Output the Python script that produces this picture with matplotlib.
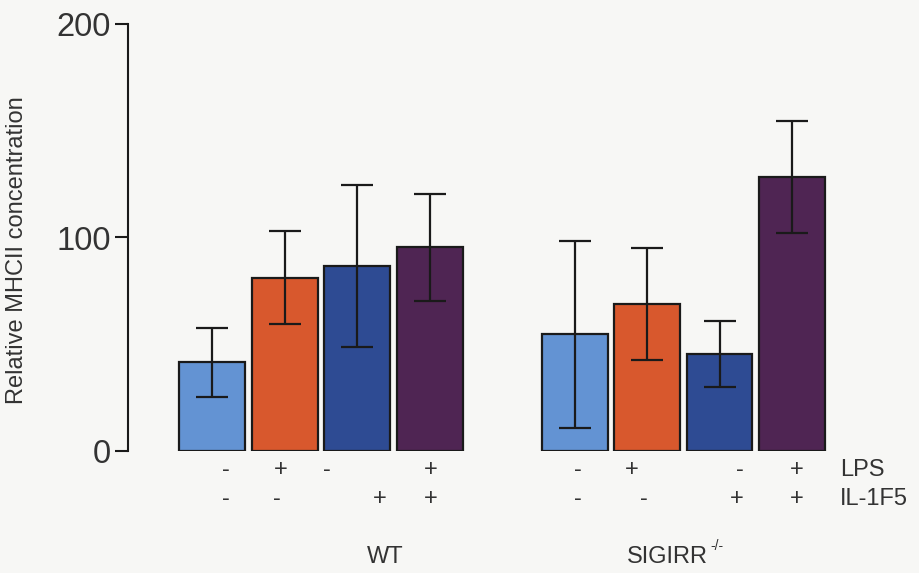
import matplotlib
matplotlib.use("Agg")
import matplotlib.pyplot as plt
import numpy as np

plt.rcParams['font.family'] = ['Liberation Sans', 'DejaVu Sans']

# ---- data ----
groups = ["WT", "SIGIRR"]
conditions = ["LPS-/IL-1F5-", "LPS+/IL-1F5-", "LPS-/IL-1F5+", "LPS+/IL-1F5+"]
wt_means = [41.5, 81.2, 86.7, 95.4]
wt_errs = [16.1, 21.8, 37.8, 25.1]
sig_means = [54.7, 68.9, 45.4, 128.5]
sig_errs = [43.8, 26.4, 15.4, 26.3]
lps_signs = ["-", "+", "-", "+"]
il_signs = ["-", "-", "+", "+"]
yticks = [0, 100, 200]
colors = ["#6393d3", "#d8582d", "#2e4b93", "#4f2553"]

# layout: offsets of the printed signs from bar centres (as in the original figure)
lps_offsets_wt = [0.19, -0.05, -0.42, 0.02]
il_offsets_wt = [0.19, -0.10, 0.32, 0.02]
lps_offsets_sig = [0.05, -0.21, 0.28, 0.06]
il_offsets_sig = [0.05, -0.04, 0.24, 0.06]

bg = "#f7f7f5"
txt = "#333333"
fig = plt.figure(figsize=(9.19, 5.73), dpi=100, facecolor=bg)
ax = fig.add_axes([128/919, (573-451)/573, (830-128)/919, (451-24)/573], facecolor=bg)

x_wt = np.arange(4)
x_sig = np.arange(4) + 5
width = 0.91
for xs, means, errs in [(x_wt, wt_means, wt_errs), (x_sig, sig_means, sig_errs)]:
    ax.bar(xs, means, width=width, color=colors, edgecolor="#1a1a1a", linewidth=1.6, zorder=2)
    ax.errorbar(xs, means, yerr=errs, fmt="none", ecolor="#1a1a1a", elinewidth=1.6,
                capsize=11.5, capthick=1.6, zorder=3)

ax.set_xlim(-1.159, 8.524)
ax.set_ylim(0, 200)
ax.set_yticks(yticks)
ax.set_yticklabels([str(v) for v in yticks], fontsize=23.5, color=txt)
ax.tick_params(axis='y', length=9.5, width=1.5, pad=3, color="#1a1a1a")
ax.set_xticks([])
for s in ["top", "right", "bottom"]:
    ax.spines[s].set_visible(False)
ax.spines["left"].set_linewidth(1.5)
ax.spines["left"].set_color("#1a1a1a")
ax.spines["left"].set_bounds(0, 200)

ax.set_ylabel("Relative MHCII concentration", fontsize=17, color=txt)
ax.yaxis.set_label_coords(-0.142, 0.47)

y_lps = -8.9
y_il = -22.5
fs = 17
for xs, lo, io in [(x_wt, lps_offsets_wt, il_offsets_wt), (x_sig, lps_offsets_sig, il_offsets_sig)]:
    for i, x in enumerate(xs):
        ax.text(x + lo[i], y_lps, lps_signs[i], ha="center", va="center", fontsize=fs, color=txt, clip_on=False)
        ax.text(x + io[i], y_il, il_signs[i], ha="center", va="center", fontsize=fs, color=txt, clip_on=False)

ax.text(8.66, y_lps, "LPS", ha="left", va="center", fontsize=fs, color=txt, clip_on=False)
ax.text(8.66, y_il, "IL-1F5", ha="left", va="center", fontsize=fs, color=txt, clip_on=False)

y_grp = -49.6
ax.text(2.39, y_grp, groups[0], ha="center", va="center", fontsize=fs, color=txt, clip_on=False)
ax.text(5.72, y_grp, groups[1], ha="left", va="center", fontsize=fs, color=txt, clip_on=False)
ax.text(6.88, y_grp + 5, "-/-", ha="left", va="center", fontsize=10, color=txt, clip_on=False)

fig.savefig("out.png", dpi=100, facecolor=bg)
